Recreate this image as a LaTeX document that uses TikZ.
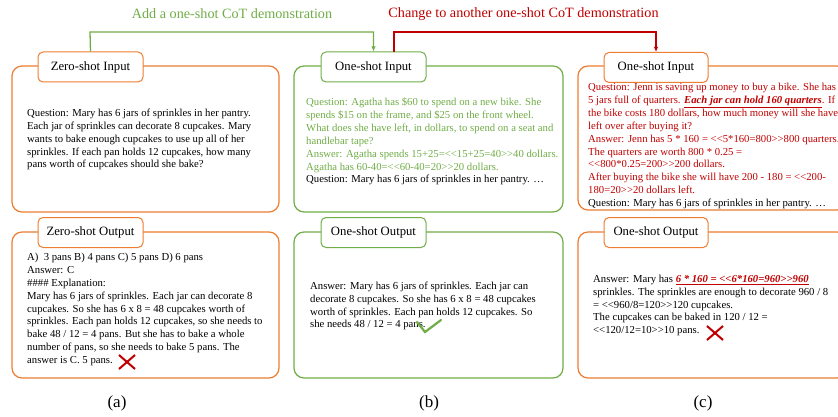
\documentclass[tikz,border=0pt]{standalone}
\usepackage{fontspec}
\setmainfont{Liberation Serif}
\usetikzlibrary{arrows.meta}
\definecolor{orangeC}{HTML}{ED7D31}
\definecolor{greenC}{HTML}{70AD47}
\definecolor{redC}{HTML}{C00000}
\newcommand{\dlt}{<\kern0pt<}
\newcommand{\dgt}{>\kern0pt>}
\begin{document}
\begin{tikzpicture}[x=1pt,y=-1pt,
  outerbox/.style={draw, line width=1.2pt, rounded corners=10pt, minimum height=146pt, inner sep=0pt},
  tabbox/.style={draw, fill=white, line width=1pt, rounded corners=5pt, minimum width=105pt, minimum height=30pt, inner sep=0pt, font=\fontsize{12.7}{14}\selectfont},
  body/.style={align=left, inner sep=0pt, anchor=west, font=\fontsize{10.7}{12.9}\selectfont},
  toplabel/.style={inner sep=0pt, font=\fontsize{14.2}{16}\selectfont},
  caption/.style={inner sep=0pt, font=\fontsize{17}{19}\selectfont},
  cross/.style={draw=redC, line width=2pt},
  tick/.style={draw=greenC, line width=2.2pt},
  conn/.style={line width=1.3pt, -{Latex[length=5pt,width=4.5pt]}}
]
\useasboundingbox (0,0) rectangle (838,417);
\clip (0,0) rectangle (838,417);

% outer boxes
\node[outerbox, draw=orangeC, minimum width=267pt] (ainbox) at (145.5,139) {};
\node[outerbox, draw=orangeC, minimum width=267pt] (aoutbox) at (145.5,305) {};
\node[outerbox, draw=greenC, minimum width=269pt] (binbox) at (428.5,139) {};
\node[outerbox, draw=greenC, minimum width=269pt] (boutbox) at (428.5,305) {};
\node[outerbox, draw=orangeC, minimum width=269pt, minimum height=144pt] (cinbox) at (712.5,138) {};
\node[outerbox, draw=orangeC, minimum width=269pt] (coutbox) at (712.5,305) {};

% tabs
\node[tabbox, draw=orangeC] (ain) at (90.5,67) {Zero-shot Input};
\node[tabbox, draw=orangeC] (aout) at (90.5,232.5) {Zero-shot Output};
\node[tabbox, draw=greenC] (bin) at (373.5,67) {One-shot Input};
\node[tabbox, draw=greenC] (bout) at (373.5,232.5) {One-shot Output};
\node[tabbox, draw=orangeC, minimum width=104pt] (cin) at (656,67.5) {One-shot Input};
\node[tabbox, draw=orangeC, minimum width=104pt] (cout) at (656,232.5) {One-shot Output};

% connectors
\coordinate (rstart) at (394,52);
\draw[conn, draw=greenC, color=greenC] (ain.north) -- (90,32) -| (bin.north);
\draw[conn, draw=redC, color=redC] (rstart) -- (394,32) -| (cin.north);
\node[toplabel, text=greenC] (glabel) at (232,14) {Add a one-shot CoT demonstration};
\node[toplabel, text=redC] (rlabel) at (523.5,14) {Change to another one-shot CoT demonstration};

% texts
\node[body] (aintext) at (27,139.5) {Question: Mary has 6 jars of sprinkles in her pantry.\\
Each jar of sprinkles can decorate 8 cupcakes. Mary\\
wants to bake enough cupcakes to use up all of her\\
sprinkles. If each pan holds 12 cupcakes, how many\\
pans worth of cupcakes should she bake?};

\node[body] (aouttext) at (27,309.5) {A)\ \ 3 pans B) 4 pans C) 5 pans D) 6 pans\\
Answer: C\\
\#\#\#\# Explanation:\\
Mary has 6 jars of sprinkles. Each jar can decorate 8\\
cupcakes. So she has 6 x 8 = 48 cupcakes worth of\\
sprinkles. Each pan holds 12 cupcakes, so she needs to\\
bake 48 / 12 = 4 pans. But she has to bake a whole\\
number of pans, so she needs to bake 5 pans. The\\
answer is C. 5 pans.};

\node[body] (bintext) at (306,141.5) {\textcolor{greenC}{Question: Agatha has \$60 to spend on a new bike. She}\\
\textcolor{greenC}{spends \$15 on the frame, and \$25 on the front wheel.}\\
\textcolor{greenC}{What does she have left, in dollars, to spend on a seat and}\\
\textcolor{greenC}{handlebar tape?}\\
\textcolor{greenC}{Answer: Agatha spends 15+25=\dlt15+25=40\dgt40 dollars.}\\
\textcolor{greenC}{Agatha has 60-40=\dlt60-40=20\dgt20 dollars.}\\
Question: Mary has 6 jars of sprinkles in her pantry. …};

\node[body] (bouttext) at (310,306) {Answer: Mary has 6 jars of sprinkles. Each jar can\\
decorate 8 cupcakes. So she has 6 x 8 = 48 cupcakes\\
worth of sprinkles. Each pan holds 12 cupcakes. So\\
she needs 48 / 12 = 4 pans.};

\node[body] (cintext) at (588,146) {\textcolor{redC}{Question: Jenn is saving up money to buy a bike. She has}\\
\textcolor{redC}{5 jars full of quarters. \underline{\textbf{\textit{Each jar can hold 160 quarters}}}. If}\\
\textcolor{redC}{the bike costs 180 dollars, how much money will she have}\\
\textcolor{redC}{left over after buying it?}\\
\textcolor{redC}{Answer: Jenn has 5 * 160 = \dlt5*160=800\dgt800 quarters.}\\
\textcolor{redC}{The quarters are worth 800 * 0.25 =}\\
\textcolor{redC}{\dlt800*0.25=200\dgt200 dollars.}\\
\textcolor{redC}{After buying the bike she will have 200 - 180 = \dlt200-}\\
\textcolor{redC}{180=20\dgt20 dollars left.}\\
Question: Mary has 6 jars of sprinkles in her pantry. …};

\node[body] (couttext) at (593,305.5) {Answer: Mary has \textcolor{redC}{\underline{\textbf{\textit{6 * 160 = \dlt6*160=960\dgt960}}}}\\
sprinkles. The sprinkles are enough to decorate 960 / 8\\
= \dlt960/8=120\dgt120 cupcakes.\\
The cupcakes can be baked in 120 / 12 =\\
\dlt120/12=10\dgt10 pans.};

% marks
\draw[cross] (119,355) -- (135,369) (119,369) -- (135,355);
\draw[cross] (707,326) -- (723,340) (707,340) -- (723,326);
\draw[tick, line cap=round] (417,322) -- (425,332) -- (441,320);

% captions
\node[caption] (capa) at (117,403) {(a)};
\node[caption] (capb) at (429,403) {(b)};
\node[caption] (capc) at (703,403) {(c)};
\end{tikzpicture}
\end{document}
